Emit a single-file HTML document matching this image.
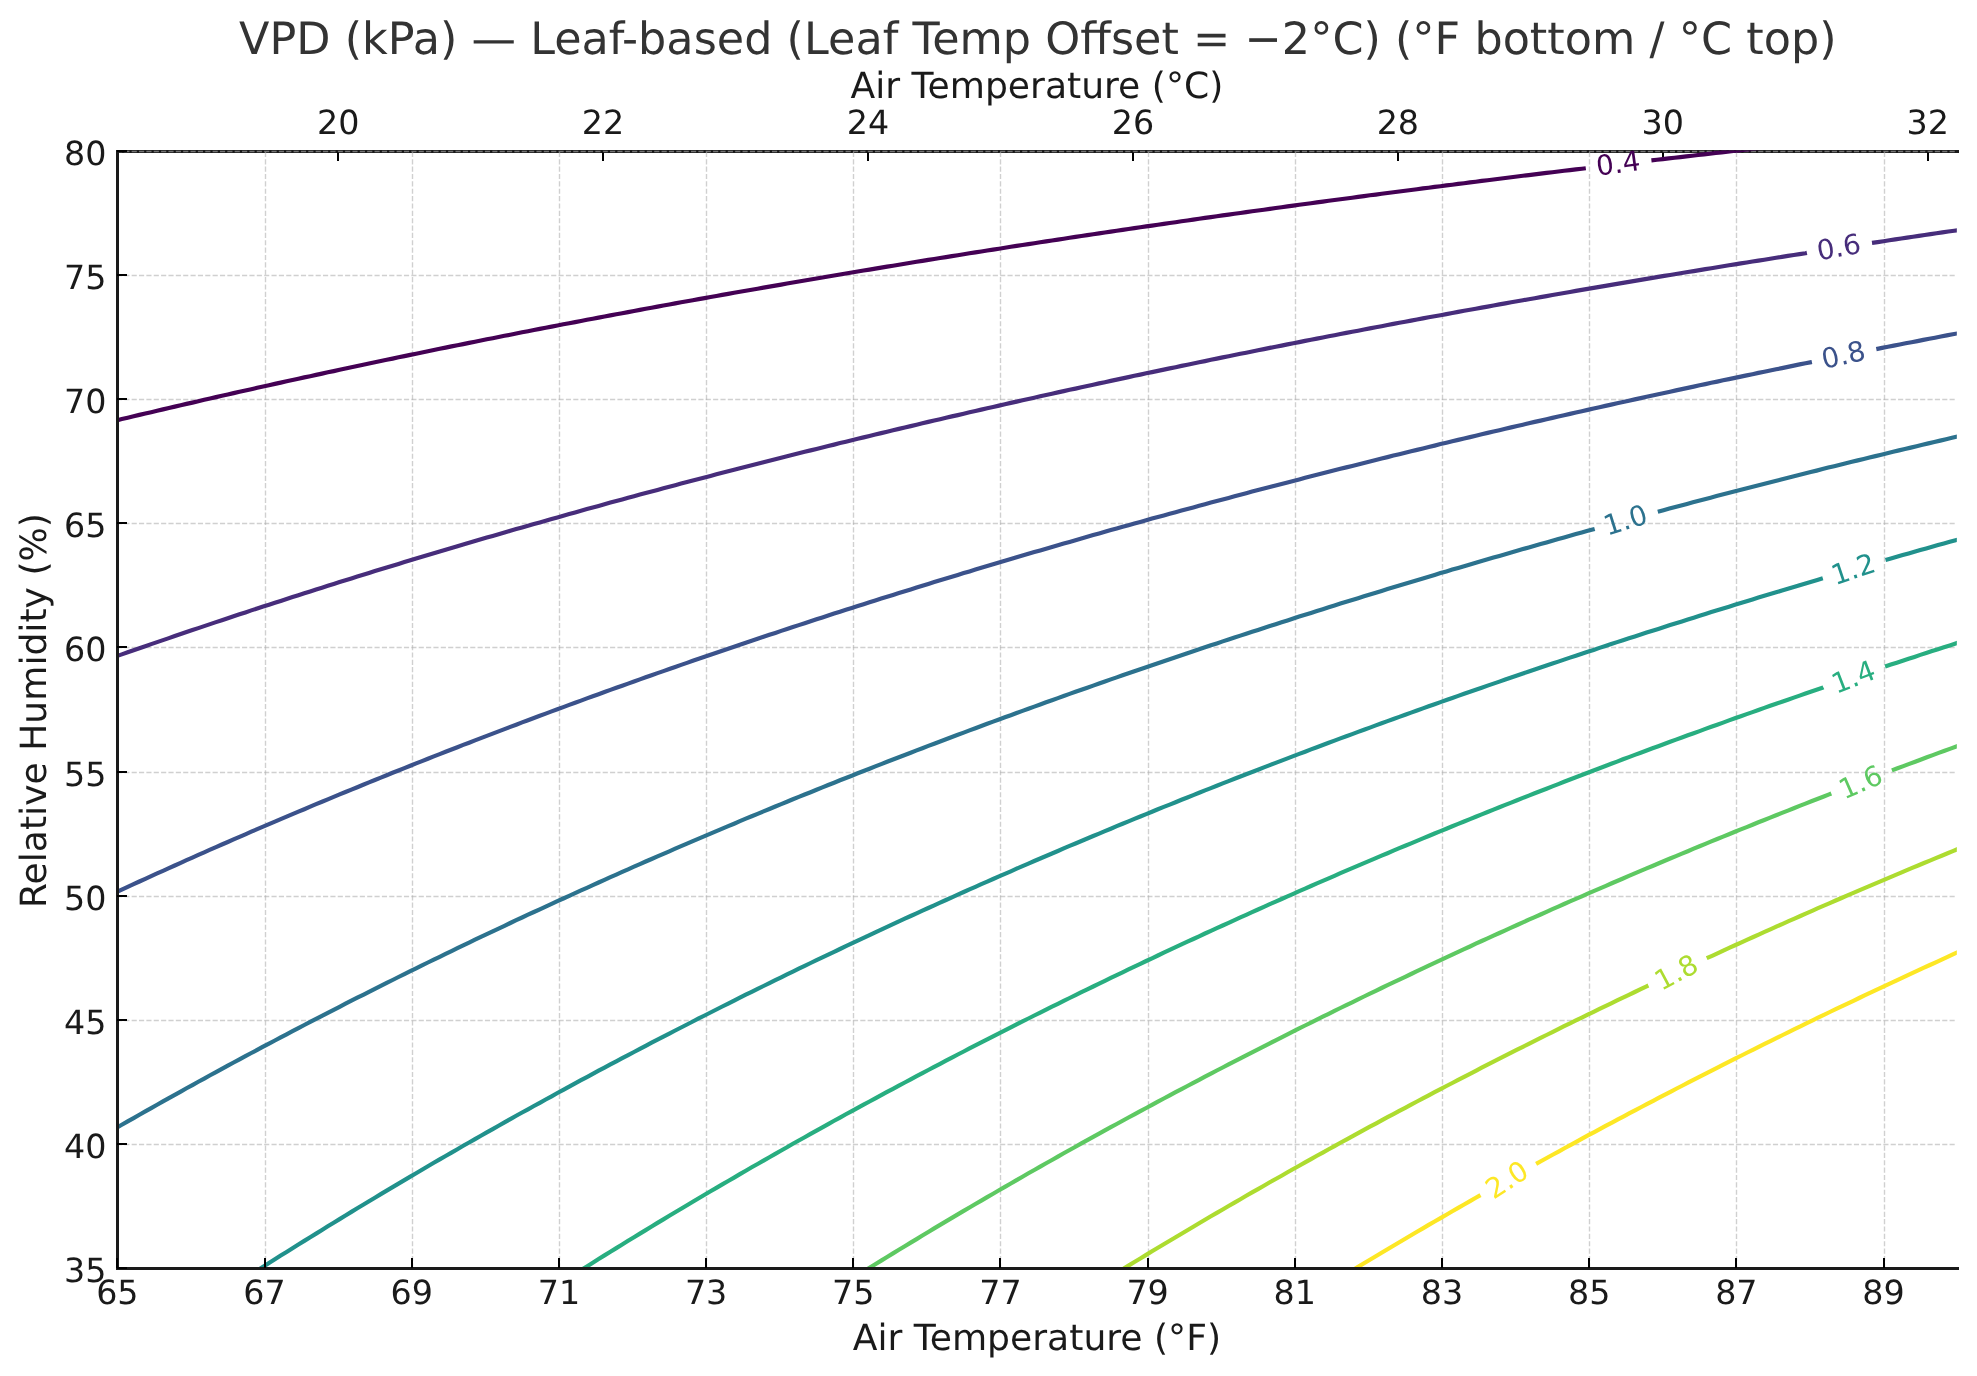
<!DOCTYPE html>
<html lang="en"><head><meta charset="utf-8"><title>VPD (kPa) — Leaf-based</title>
<style>html,body{margin:0;padding:0;background:#fff}svg{display:block;will-change:transform}</style></head>
<body>
<svg width="1977" height="1376" viewBox="0 0 1977 1376" font-family="'DejaVu Sans', 'Liberation Sans', sans-serif" text-rendering="geometricPrecision">
<rect width="1977" height="1376" fill="#fff"/>
<defs><clipPath id="ax"><rect x="116.93" y="150.6" width="1839.8999999999999" height="1117.8000000000002"/></clipPath></defs>
<rect x="116" y="150" width="1843" height="3" fill="#1a1a1a"/>
<rect x="337" y="151" width="2" height="10" fill="#000"/>
<rect x="602" y="151" width="2" height="10" fill="#000"/>
<rect x="867" y="151" width="2" height="10" fill="#000"/>
<rect x="1132" y="151" width="2" height="10" fill="#000"/>
<rect x="1397" y="151" width="2" height="10" fill="#000"/>
<rect x="1662" y="151" width="2" height="10" fill="#000"/>
<rect x="1927" y="151" width="2" height="10" fill="#000"/>
<g stroke="#b0b0b0" stroke-opacity="0.6" stroke-width="1.39" stroke-dasharray="5.14 2.22" fill="none">
<line x1="265.5" y1="1268.4" x2="265.5" y2="150.6"/>
<line x1="412.5" y1="1268.4" x2="412.5" y2="150.6"/>
<line x1="559.5" y1="1268.4" x2="559.5" y2="150.6"/>
<line x1="706.5" y1="1268.4" x2="706.5" y2="150.6"/>
<line x1="853.5" y1="1268.4" x2="853.5" y2="150.6"/>
<line x1="1000.5" y1="1268.4" x2="1000.5" y2="150.6"/>
<line x1="1148.5" y1="1268.4" x2="1148.5" y2="150.6"/>
<line x1="1295.5" y1="1268.4" x2="1295.5" y2="150.6"/>
<line x1="1442.5" y1="1268.4" x2="1442.5" y2="150.6"/>
<line x1="1589.5" y1="1268.4" x2="1589.5" y2="150.6"/>
<line x1="1736.5" y1="1268.4" x2="1736.5" y2="150.6"/>
<line x1="1884.5" y1="1268.4" x2="1884.5" y2="150.6"/>
<line x1="116.93" y1="1268.5" x2="1956.83" y2="1268.5"/>
<line x1="116.93" y1="1144.5" x2="1956.83" y2="1144.5"/>
<line x1="116.93" y1="1020.5" x2="1956.83" y2="1020.5"/>
<line x1="116.93" y1="896.5" x2="1956.83" y2="896.5"/>
<line x1="116.93" y1="772.5" x2="1956.83" y2="772.5"/>
<line x1="116.93" y1="647.5" x2="1956.83" y2="647.5"/>
<line x1="116.93" y1="523.5" x2="1956.83" y2="523.5"/>
<line x1="116.93" y1="399.5" x2="1956.83" y2="399.5"/>
<line x1="116.93" y1="275.5" x2="1956.83" y2="275.5"/>
<line x1="116.93" y1="151.5" x2="1956.83" y2="151.5"/>
</g>
<g clip-path="url(#ax)" fill="none" stroke-linecap="butt" stroke-linejoin="round">
<path d="M110.0 422.0 L115.9 420.6 L121.8 419.1 L127.7 417.7 L133.6 416.3 L139.4 414.9 L145.3 413.5 L151.2 412.2 L157.1 410.8 L163.0 409.4 L168.9 408.0 L174.8 406.6 L180.7 405.3 L186.5 403.9 L192.4 402.6 L198.3 401.2 L204.2 399.8 L210.1 398.5 L216.0 397.1 L221.9 395.8 L227.8 394.5 L233.6 393.1 L239.5 391.8 L245.4 390.5 L251.3 389.2 L257.2 387.8 L263.1 386.5 L269.0 385.2 L274.9 383.9 L280.7 382.6 L286.6 381.3 L292.5 380.0 L298.4 378.7 L304.3 377.4 L310.2 376.2 L316.1 374.9 L322.0 373.6 L327.8 372.3 L333.7 371.1 L339.6 369.8 L345.5 368.5 L351.4 367.3 L357.3 366.0 L363.2 364.8 L369.0 363.5 L374.9 362.3 L380.8 361.0 L386.7 359.8 L392.6 358.6 L398.5 357.3 L404.4 356.1 L410.3 354.9 L416.1 353.7 L422.0 352.5 L427.9 351.3 L433.8 350.0 L439.7 348.8 L445.6 347.6 L451.5 346.4 L457.4 345.3 L463.2 344.1 L469.1 342.9 L475.0 341.7 L480.9 340.5 L486.8 339.3 L492.7 338.2 L498.6 337.0 L504.5 335.8 L510.3 334.7 L516.2 333.5 L522.1 332.3 L528.0 331.2 L533.9 330.0 L539.8 328.9 L545.7 327.7 L551.6 326.6 L557.4 325.5 L563.3 324.3 L569.2 323.2 L575.1 322.1 L581.0 321.0 L586.9 319.8 L592.8 318.7 L598.6 317.6 L604.5 316.5 L610.4 315.4 L616.3 314.3 L622.2 313.2 L628.1 312.1 L634.0 311.0 L639.9 309.9 L645.7 308.8 L651.6 307.7 L657.5 306.6 L663.4 305.5 L669.3 304.5 L675.2 303.4 L681.1 302.3 L687.0 301.2 L692.8 300.2 L698.7 299.1 L704.6 298.1 L710.5 297.0 L716.4 296.0 L722.3 294.9 L728.2 293.9 L734.1 292.8 L739.9 291.8 L745.8 290.7 L751.7 289.7 L757.6 288.7 L763.5 287.6 L769.4 286.6 L775.3 285.6 L781.2 284.6 L787.0 283.5 L792.9 282.5 L798.8 281.5 L804.7 280.5 L810.6 279.5 L816.5 278.5 L822.4 277.5 L828.2 276.5 L834.1 275.5 L840.0 274.5 L845.9 273.5 L851.8 272.5 L857.7 271.5 L863.6 270.5 L869.5 269.6 L875.3 268.6 L881.2 267.6 L887.1 266.6 L893.0 265.7 L898.9 264.7 L904.8 263.7 L910.7 262.8 L916.6 261.8 L922.4 260.9 L928.3 259.9 L934.2 259.0 L940.1 258.0 L946.0 257.1 L951.9 256.1 L957.8 255.2 L963.7 254.3 L969.5 253.3 L975.4 252.4 L981.3 251.5 L987.2 250.5 L993.1 249.6 L999.0 248.7 L1004.9 247.8 L1010.8 246.8 L1016.6 245.9 L1022.5 245.0 L1028.4 244.1 L1034.3 243.2 L1040.2 242.3 L1046.1 241.4 L1052.0 240.5 L1057.9 239.6 L1063.7 238.7 L1069.6 237.8 L1075.5 236.9 L1081.4 236.0 L1087.3 235.1 L1093.2 234.3 L1099.1 233.4 L1104.9 232.5 L1110.8 231.6 L1116.7 230.8 L1122.6 229.9 L1128.5 229.0 L1134.4 228.1 L1140.3 227.3 L1146.2 226.4 L1152.0 225.6 L1157.9 224.7 L1163.8 223.9 L1169.7 223.0 L1175.6 222.2 L1181.5 221.3 L1187.4 220.5 L1193.3 219.6 L1199.1 218.8 L1205.0 217.9 L1210.9 217.1 L1216.8 216.3 L1222.7 215.4 L1228.6 214.6 L1234.5 213.8 L1240.4 213.0 L1246.2 212.1 L1252.1 211.3 L1258.0 210.5 L1263.9 209.7 L1269.8 208.9 L1275.7 208.0 L1281.6 207.2 L1287.5 206.4 L1293.3 205.6 L1299.2 204.8 L1305.1 204.0 L1311.0 203.2 L1316.9 202.4 L1322.8 201.6 L1328.7 200.8 L1334.5 200.0 L1340.4 199.3 L1346.3 198.5 L1352.2 197.7 L1358.1 196.9 L1364.0 196.1 L1369.9 195.3 L1375.8 194.6 L1381.6 193.8 L1387.5 193.0 L1393.4 192.3 L1399.3 191.5 L1405.2 190.7 L1411.1 190.0 L1417.0 189.2 L1422.9 188.4 L1428.7 187.7 L1434.6 186.9 L1440.5 186.2 L1446.4 185.4 L1452.3 184.7 L1458.2 183.9 L1464.1 183.2 L1470.0 182.4 L1475.8 181.7 L1481.7 180.9 L1487.6 180.2 L1493.5 179.5 L1499.4 178.7 L1505.3 178.0 L1511.2 177.3 L1517.1 176.5 L1522.9 175.8 L1528.8 175.1 L1534.7 174.4 L1540.6 173.6 L1546.5 172.9 L1552.4 172.2 L1558.3 171.5 L1564.1 170.8 L1570.0 170.1 L1575.9 169.4 L1581.8 168.7 L1585.8 168.2 M1651.4 160.4 L1656.9 159.8 L1662.8 159.1 L1668.6 158.4 L1674.5 157.7 L1680.4 157.1 L1686.3 156.4 L1692.2 155.7 L1698.1 155.0 L1704.0 154.4 L1709.9 153.7 L1715.7 153.0 L1721.6 152.4 L1727.5 151.7 L1733.4 151.0 L1739.3 150.4 L1745.2 149.7 L1751.1 149.1 L1757.0 148.4 L1762.8 147.8 L1768.7 147.1 L1774.6 146.4 L1780.5 145.8 L1786.4 145.2 L1792.3 144.5 L1798.2 143.9 L1804.1 143.2 L1809.9 142.6 L1815.8 141.9 L1821.7 141.3 L1827.6 140.7 L1833.5 140.0 L1839.4 139.4 L1845.3 138.8 L1851.2 138.1 L1857.0 137.5 L1862.9 136.9 L1868.8 136.3 L1874.7 135.6 L1880.6 135.0 L1886.5 134.4 L1892.4 133.8 L1898.2 133.2 L1904.1 132.5 L1910.0 131.9 L1915.9 131.3 L1921.8 130.7 L1927.7 130.1 L1933.6 129.5 L1939.5 128.9 L1945.3 128.3 L1951.2 127.7 L1957.1 127.1 L1963.0 126.5 L1964.5 126.3" stroke="#440154" stroke-width="4.17"/>
<path d="M110.0 658.5 L115.9 656.4 L121.8 654.4 L127.7 652.3 L133.6 650.3 L139.4 648.2 L145.3 646.2 L151.2 644.1 L157.1 642.1 L163.0 640.1 L168.9 638.1 L174.8 636.0 L180.7 634.0 L186.5 632.0 L192.4 630.1 L198.3 628.1 L204.2 626.1 L210.1 624.1 L216.0 622.1 L221.9 620.2 L227.8 618.2 L233.6 616.3 L239.5 614.3 L245.4 612.4 L251.3 610.4 L257.2 608.5 L263.1 606.6 L269.0 604.7 L274.9 602.8 L280.7 600.9 L286.6 599.0 L292.5 597.1 L298.4 595.2 L304.3 593.3 L310.2 591.4 L316.1 589.5 L322.0 587.7 L327.8 585.8 L333.7 584.0 L339.6 582.1 L345.5 580.3 L351.4 578.4 L357.3 576.6 L363.2 574.8 L369.0 572.9 L374.9 571.1 L380.8 569.3 L386.7 567.5 L392.6 565.7 L398.5 563.9 L404.4 562.1 L410.3 560.3 L416.1 558.6 L422.0 556.8 L427.9 555.0 L433.8 553.2 L439.7 551.5 L445.6 549.7 L451.5 548.0 L457.4 546.2 L463.2 544.5 L469.1 542.8 L475.0 541.0 L480.9 539.3 L486.8 537.6 L492.7 535.9 L498.6 534.2 L504.5 532.5 L510.3 530.8 L516.2 529.1 L522.1 527.4 L528.0 525.7 L533.9 524.0 L539.8 522.4 L545.7 520.7 L551.6 519.0 L557.4 517.4 L563.3 515.7 L569.2 514.1 L575.1 512.4 L581.0 510.8 L586.9 509.1 L592.8 507.5 L598.6 505.9 L604.5 504.3 L610.4 502.6 L616.3 501.0 L622.2 499.4 L628.1 497.8 L634.0 496.2 L639.9 494.6 L645.7 493.0 L651.6 491.5 L657.5 489.9 L663.4 488.3 L669.3 486.7 L675.2 485.2 L681.1 483.6 L687.0 482.1 L692.8 480.5 L698.7 479.0 L704.6 477.4 L710.5 475.9 L716.4 474.3 L722.3 472.8 L728.2 471.3 L734.1 469.8 L739.9 468.2 L745.8 466.7 L751.7 465.2 L757.6 463.7 L763.5 462.2 L769.4 460.7 L775.3 459.2 L781.2 457.7 L787.0 456.3 L792.9 454.8 L798.8 453.3 L804.7 451.8 L810.6 450.4 L816.5 448.9 L822.4 447.5 L828.2 446.0 L834.1 444.6 L840.0 443.1 L845.9 441.7 L851.8 440.2 L857.7 438.8 L863.6 437.4 L869.5 435.9 L875.3 434.5 L881.2 433.1 L887.1 431.7 L893.0 430.3 L898.9 428.9 L904.8 427.5 L910.7 426.1 L916.6 424.7 L922.4 423.3 L928.3 421.9 L934.2 420.5 L940.1 419.2 L946.0 417.8 L951.9 416.4 L957.8 415.1 L963.7 413.7 L969.5 412.3 L975.4 411.0 L981.3 409.6 L987.2 408.3 L993.1 407.0 L999.0 405.6 L1004.9 404.3 L1010.8 402.9 L1016.6 401.6 L1022.5 400.3 L1028.4 399.0 L1034.3 397.7 L1040.2 396.3 L1046.1 395.0 L1052.0 393.7 L1057.9 392.4 L1063.7 391.1 L1069.6 389.8 L1075.5 388.6 L1081.4 387.3 L1087.3 386.0 L1093.2 384.7 L1099.1 383.4 L1104.9 382.2 L1110.8 380.9 L1116.7 379.6 L1122.6 378.4 L1128.5 377.1 L1134.4 375.8 L1140.3 374.6 L1146.2 373.3 L1152.0 372.1 L1157.9 370.9 L1163.8 369.6 L1169.7 368.4 L1175.6 367.2 L1181.5 365.9 L1187.4 364.7 L1193.3 363.5 L1199.1 362.3 L1205.0 361.1 L1210.9 359.8 L1216.8 358.6 L1222.7 357.4 L1228.6 356.2 L1234.5 355.0 L1240.4 353.8 L1246.2 352.7 L1252.1 351.5 L1258.0 350.3 L1263.9 349.1 L1269.8 347.9 L1275.7 346.8 L1281.6 345.6 L1287.5 344.4 L1293.3 343.3 L1299.2 342.1 L1305.1 340.9 L1311.0 339.8 L1316.9 338.6 L1322.8 337.5 L1328.7 336.3 L1334.5 335.2 L1340.4 334.0 L1346.3 332.9 L1352.2 331.8 L1358.1 330.7 L1364.0 329.5 L1369.9 328.4 L1375.8 327.3 L1381.6 326.2 L1387.5 325.0 L1393.4 323.9 L1399.3 322.8 L1405.2 321.7 L1411.1 320.6 L1417.0 319.5 L1422.9 318.4 L1428.7 317.3 L1434.6 316.2 L1440.5 315.2 L1446.4 314.1 L1452.3 313.0 L1458.2 311.9 L1464.1 310.8 L1470.0 309.8 L1475.8 308.7 L1481.7 307.6 L1487.6 306.6 L1493.5 305.5 L1499.4 304.4 L1505.3 303.4 L1511.2 302.3 L1517.1 301.3 L1522.9 300.2 L1528.8 299.2 L1534.7 298.2 L1540.6 297.1 L1546.5 296.1 L1552.4 295.0 L1558.3 294.0 L1564.1 293.0 L1570.0 292.0 L1575.9 290.9 L1581.8 289.9 L1587.7 288.9 L1593.6 287.9 L1599.5 286.9 L1605.4 285.9 L1611.2 284.9 L1617.1 283.9 L1623.0 282.9 L1628.9 281.9 L1634.8 280.9 L1640.7 279.9 L1646.6 278.9 L1652.5 277.9 L1658.3 276.9 L1664.2 275.9 L1670.1 275.0 L1676.0 274.0 L1681.9 273.0 L1687.8 272.0 L1693.7 271.1 L1699.6 270.1 L1705.4 269.1 L1711.3 268.2 L1717.2 267.2 L1723.1 266.3 L1729.0 265.3 L1734.9 264.4 L1740.8 263.4 L1746.7 262.5 L1752.5 261.5 L1758.4 260.6 L1764.3 259.7 L1770.2 258.7 L1776.1 257.8 L1782.0 256.9 L1787.9 255.9 L1793.8 255.0 L1799.6 254.1 L1805.5 253.2 L1806.9 252.9 M1872.0 242.9 L1877.6 242.1 L1883.5 241.2 L1889.4 240.3 L1895.3 239.4 L1901.2 238.5 L1907.1 237.6 L1913.0 236.8 L1918.9 235.9 L1924.7 235.0 L1930.6 234.1 L1936.5 233.3 L1942.4 232.4 L1948.3 231.5 L1954.2 230.7 L1960.1 229.8 L1964.5 229.2" stroke="#472d7b" stroke-width="4.17"/>
<path d="M110.0 895.0 L115.9 892.3 L121.8 889.6 L127.7 886.9 L133.6 884.2 L139.4 881.5 L145.3 878.8 L151.2 876.1 L157.1 873.4 L163.0 870.8 L168.9 868.1 L174.8 865.5 L180.7 862.8 L186.5 860.2 L192.4 857.6 L198.3 854.9 L204.2 852.3 L210.1 849.7 L216.0 847.1 L221.9 844.5 L227.8 842.0 L233.6 839.4 L239.5 836.8 L245.4 834.3 L251.3 831.7 L257.2 829.2 L263.1 826.7 L269.0 824.1 L274.9 821.6 L280.7 819.1 L286.6 816.6 L292.5 814.1 L298.4 811.6 L304.3 809.2 L310.2 806.7 L316.1 804.2 L322.0 801.8 L327.8 799.3 L333.7 796.9 L339.6 794.4 L345.5 792.0 L351.4 789.6 L357.3 787.2 L363.2 784.8 L369.0 782.4 L374.9 780.0 L380.8 777.6 L386.7 775.2 L392.6 772.8 L398.5 770.5 L404.4 768.1 L410.3 765.8 L416.1 763.4 L422.0 761.1 L427.9 758.8 L433.8 756.4 L439.7 754.1 L445.6 751.8 L451.5 749.5 L457.4 747.2 L463.2 744.9 L469.1 742.7 L475.0 740.4 L480.9 738.1 L486.8 735.9 L492.7 733.6 L498.6 731.4 L504.5 729.1 L510.3 726.9 L516.2 724.7 L522.1 722.4 L528.0 720.2 L533.9 718.0 L539.8 715.8 L545.7 713.6 L551.6 711.4 L557.4 709.3 L563.3 707.1 L569.2 704.9 L575.1 702.8 L581.0 700.6 L586.9 698.4 L592.8 696.3 L598.6 694.2 L604.5 692.0 L610.4 689.9 L616.3 687.8 L622.2 685.7 L628.1 683.6 L634.0 681.5 L639.9 679.4 L645.7 677.3 L651.6 675.2 L657.5 673.1 L663.4 671.1 L669.3 669.0 L675.2 667.0 L681.1 664.9 L687.0 662.9 L692.8 660.8 L698.7 658.8 L704.6 656.8 L710.5 654.7 L716.4 652.7 L722.3 650.7 L728.2 648.7 L734.1 646.7 L739.9 644.7 L745.8 642.7 L751.7 640.8 L757.6 638.8 L763.5 636.8 L769.4 634.8 L775.3 632.9 L781.2 630.9 L787.0 629.0 L792.9 627.1 L798.8 625.1 L804.7 623.2 L810.6 621.3 L816.5 619.3 L822.4 617.4 L828.2 615.5 L834.1 613.6 L840.0 611.7 L845.9 609.8 L851.8 608.0 L857.7 606.1 L863.6 604.2 L869.5 602.3 L875.3 600.5 L881.2 598.6 L887.1 596.8 L893.0 594.9 L898.9 593.1 L904.8 591.2 L910.7 589.4 L916.6 587.6 L922.4 585.7 L928.3 583.9 L934.2 582.1 L940.1 580.3 L946.0 578.5 L951.9 576.7 L957.8 574.9 L963.7 573.1 L969.5 571.4 L975.4 569.6 L981.3 567.8 L987.2 566.1 L993.1 564.3 L999.0 562.5 L1004.9 560.8 L1010.8 559.1 L1016.6 557.3 L1022.5 555.6 L1028.4 553.8 L1034.3 552.1 L1040.2 550.4 L1046.1 548.7 L1052.0 547.0 L1057.9 545.3 L1063.7 543.6 L1069.6 541.9 L1075.5 540.2 L1081.4 538.5 L1087.3 536.8 L1093.2 535.1 L1099.1 533.5 L1104.9 531.8 L1110.8 530.1 L1116.7 528.5 L1122.6 526.8 L1128.5 525.2 L1134.4 523.5 L1140.3 521.9 L1146.2 520.3 L1152.0 518.6 L1157.9 517.0 L1163.8 515.4 L1169.7 513.8 L1175.6 512.2 L1181.5 510.6 L1187.4 509.0 L1193.3 507.4 L1199.1 505.8 L1205.0 504.2 L1210.9 502.6 L1216.8 501.0 L1222.7 499.4 L1228.6 497.9 L1234.5 496.3 L1240.4 494.7 L1246.2 493.2 L1252.1 491.6 L1258.0 490.1 L1263.9 488.5 L1269.8 487.0 L1275.7 485.5 L1281.6 483.9 L1287.5 482.4 L1293.3 480.9 L1299.2 479.4 L1305.1 477.8 L1311.0 476.3 L1316.9 474.8 L1322.8 473.3 L1328.7 471.8 L1334.5 470.3 L1340.4 468.8 L1346.3 467.4 L1352.2 465.9 L1358.1 464.4 L1364.0 462.9 L1369.9 461.5 L1375.8 460.0 L1381.6 458.5 L1387.5 457.1 L1393.4 455.6 L1399.3 454.2 L1405.2 452.7 L1411.1 451.3 L1417.0 449.9 L1422.9 448.4 L1428.7 447.0 L1434.6 445.6 L1440.5 444.1 L1446.4 442.7 L1452.3 441.3 L1458.2 439.9 L1464.1 438.5 L1470.0 437.1 L1475.8 435.7 L1481.7 434.3 L1487.6 432.9 L1493.5 431.5 L1499.4 430.2 L1505.3 428.8 L1511.2 427.4 L1517.1 426.0 L1522.9 424.7 L1528.8 423.3 L1534.7 421.9 L1540.6 420.6 L1546.5 419.2 L1552.4 417.9 L1558.3 416.5 L1564.1 415.2 L1570.0 413.9 L1575.9 412.5 L1581.8 411.2 L1587.7 409.9 L1593.6 408.5 L1599.5 407.2 L1605.4 405.9 L1611.2 404.6 L1617.1 403.3 L1623.0 402.0 L1628.9 400.7 L1634.8 399.4 L1640.7 398.1 L1646.6 396.8 L1652.5 395.5 L1658.3 394.2 L1664.2 393.0 L1670.1 391.7 L1676.0 390.4 L1681.9 389.1 L1687.8 387.9 L1693.7 386.6 L1699.6 385.3 L1705.4 384.1 L1711.3 382.8 L1717.2 381.6 L1723.1 380.3 L1729.0 379.1 L1734.9 377.9 L1740.8 376.6 L1746.7 375.4 L1752.5 374.2 L1758.4 372.9 L1764.3 371.7 L1770.2 370.5 L1776.1 369.3 L1782.0 368.1 L1787.9 366.9 L1793.8 365.6 L1799.6 364.4 L1805.5 363.2 L1811.4 362.1 L1811.9 362.0 M1876.3 349.1 L1882.1 347.9 L1887.9 346.8 L1893.8 345.6 L1899.7 344.5 L1905.6 343.3 L1911.5 342.2 L1917.4 341.1 L1923.3 339.9 L1929.2 338.8 L1935.0 337.7 L1940.9 336.5 L1946.8 335.4 L1952.7 334.3 L1958.6 333.2 L1964.5 332.0" stroke="#3b528b" stroke-width="4.17"/>
<path d="M110.0 1131.6 L115.9 1128.2 L121.8 1124.8 L127.7 1121.4 L133.6 1118.1 L139.4 1114.7 L145.3 1111.4 L151.2 1108.1 L157.1 1104.7 L163.0 1101.4 L168.9 1098.1 L174.8 1094.9 L180.7 1091.6 L186.5 1088.3 L192.4 1085.1 L198.3 1081.8 L204.2 1078.6 L210.1 1075.3 L216.0 1072.1 L221.9 1068.9 L227.8 1065.7 L233.6 1062.5 L239.5 1059.3 L245.4 1056.2 L251.3 1053.0 L257.2 1049.9 L263.1 1046.7 L269.0 1043.6 L274.9 1040.5 L280.7 1037.4 L286.6 1034.3 L292.5 1031.2 L298.4 1028.1 L304.3 1025.0 L310.2 1021.9 L316.1 1018.9 L322.0 1015.8 L327.8 1012.8 L333.7 1009.8 L339.6 1006.8 L345.5 1003.7 L351.4 1000.7 L357.3 997.7 L363.2 994.8 L369.0 991.8 L374.9 988.8 L380.8 985.9 L386.7 982.9 L392.6 980.0 L398.5 977.0 L404.4 974.1 L410.3 971.2 L416.1 968.3 L422.0 965.4 L427.9 962.5 L433.8 959.6 L439.7 956.8 L445.6 953.9 L451.5 951.1 L457.4 948.2 L463.2 945.4 L469.1 942.6 L475.0 939.7 L480.9 936.9 L486.8 934.1 L492.7 931.3 L498.6 928.6 L504.5 925.8 L510.3 923.0 L516.2 920.2 L522.1 917.5 L528.0 914.7 L533.9 912.0 L539.8 909.3 L545.7 906.6 L551.6 903.9 L557.4 901.2 L563.3 898.5 L569.2 895.8 L575.1 893.1 L581.0 890.4 L586.9 887.8 L592.8 885.1 L598.6 882.5 L604.5 879.8 L610.4 877.2 L616.3 874.6 L622.2 871.9 L628.1 869.3 L634.0 866.7 L639.9 864.1 L645.7 861.5 L651.6 859.0 L657.5 856.4 L663.4 853.8 L669.3 851.3 L675.2 848.7 L681.1 846.2 L687.0 843.7 L692.8 841.1 L698.7 838.6 L704.6 836.1 L710.5 833.6 L716.4 831.1 L722.3 828.6 L728.2 826.1 L734.1 823.7 L739.9 821.2 L745.8 818.7 L751.7 816.3 L757.6 813.8 L763.5 811.4 L769.4 809.0 L775.3 806.5 L781.2 804.1 L787.0 801.7 L792.9 799.3 L798.8 796.9 L804.7 794.5 L810.6 792.2 L816.5 789.8 L822.4 787.4 L828.2 785.0 L834.1 782.7 L840.0 780.3 L845.9 778.0 L851.8 775.7 L857.7 773.3 L863.6 771.0 L869.5 768.7 L875.3 766.4 L881.2 764.1 L887.1 761.8 L893.0 759.5 L898.9 757.2 L904.8 755.0 L910.7 752.7 L916.6 750.4 L922.4 748.2 L928.3 745.9 L934.2 743.7 L940.1 741.5 L946.0 739.2 L951.9 737.0 L957.8 734.8 L963.7 732.6 L969.5 730.4 L975.4 728.2 L981.3 726.0 L987.2 723.8 L993.1 721.6 L999.0 719.5 L1004.9 717.3 L1010.8 715.2 L1016.6 713.0 L1022.5 710.9 L1028.4 708.7 L1034.3 706.6 L1040.2 704.5 L1046.1 702.3 L1052.0 700.2 L1057.9 698.1 L1063.7 696.0 L1069.6 693.9 L1075.5 691.8 L1081.4 689.7 L1087.3 687.7 L1093.2 685.6 L1099.1 683.5 L1104.9 681.5 L1110.8 679.4 L1116.7 677.4 L1122.6 675.3 L1128.5 673.3 L1134.4 671.2 L1140.3 669.2 L1146.2 667.2 L1152.0 665.2 L1157.9 663.2 L1163.8 661.2 L1169.7 659.2 L1175.6 657.2 L1181.5 655.2 L1187.4 653.2 L1193.3 651.2 L1199.1 649.3 L1205.0 647.3 L1210.9 645.3 L1216.8 643.4 L1222.7 641.4 L1228.6 639.5 L1234.5 637.6 L1240.4 635.6 L1246.2 633.7 L1252.1 631.8 L1258.0 629.9 L1263.9 628.0 L1269.8 626.1 L1275.7 624.2 L1281.6 622.3 L1287.5 620.4 L1293.3 618.5 L1299.2 616.6 L1305.1 614.8 L1311.0 612.9 L1316.9 611.0 L1322.8 609.2 L1328.7 607.3 L1334.5 605.5 L1340.4 603.6 L1346.3 601.8 L1352.2 600.0 L1358.1 598.2 L1364.0 596.3 L1369.9 594.5 L1375.8 592.7 L1381.6 590.9 L1387.5 589.1 L1393.4 587.3 L1399.3 585.5 L1405.2 583.7 L1411.1 582.0 L1417.0 580.2 L1422.9 578.4 L1428.7 576.7 L1434.6 574.9 L1440.5 573.1 L1446.4 571.4 L1452.3 569.6 L1458.2 567.9 L1464.1 566.2 L1470.0 564.4 L1475.8 562.7 L1481.7 561.0 L1487.6 559.3 L1493.5 557.6 L1499.4 555.9 L1505.3 554.2 L1511.2 552.5 L1517.1 550.8 L1522.9 549.1 L1528.8 547.4 L1534.7 545.7 L1540.6 544.1 L1546.5 542.4 L1552.4 540.7 L1558.3 539.1 L1564.1 537.4 L1570.0 535.8 L1575.9 534.1 L1581.8 532.5 L1587.7 530.8 L1593.6 529.2 L1594.7 528.9 M1657.8 511.7 L1663.5 510.2 L1669.4 508.6 L1675.3 507.0 L1681.2 505.4 L1687.0 503.9 L1692.9 502.3 L1698.8 500.8 L1704.7 499.2 L1710.6 497.7 L1716.5 496.1 L1722.4 494.6 L1728.3 493.1 L1734.1 491.5 L1740.0 490.0 L1745.9 488.5 L1751.8 487.0 L1757.7 485.5 L1763.6 484.0 L1769.5 482.5 L1775.4 481.0 L1781.2 479.5 L1787.1 478.0 L1793.0 476.5 L1798.9 475.0 L1804.8 473.5 L1810.7 472.0 L1816.6 470.6 L1822.5 469.1 L1828.3 467.6 L1834.2 466.2 L1840.1 464.7 L1846.0 463.3 L1851.9 461.8 L1857.8 460.4 L1863.7 459.0 L1869.5 457.5 L1875.4 456.1 L1881.3 454.7 L1887.2 453.2 L1893.1 451.8 L1899.0 450.4 L1904.9 449.0 L1910.8 447.6 L1916.6 446.2 L1922.5 444.8 L1928.4 443.4 L1934.3 442.0 L1940.2 440.6 L1946.1 439.2 L1952.0 437.8 L1957.9 436.4 L1963.7 435.1 L1964.5 434.9" stroke="#2c728e" stroke-width="4.17"/>
<path d="M110.0 1368.1 L115.9 1364.1 L121.8 1360.0 L127.7 1356.0 L133.6 1352.0 L139.4 1348.0 L145.3 1344.0 L151.2 1340.0 L157.1 1336.1 L163.0 1332.1 L168.9 1328.2 L174.8 1324.3 L180.7 1320.3 L186.5 1316.4 L192.4 1312.6 L198.3 1308.7 L204.2 1304.8 L210.1 1301.0 L216.0 1297.1 L221.9 1293.3 L227.8 1289.5 L233.6 1285.7 L239.5 1281.9 L245.4 1278.1 L251.3 1274.3 L257.2 1270.5 L263.1 1266.8 L269.0 1263.1 L274.9 1259.3 L280.7 1255.6 L286.6 1251.9 L292.5 1248.2 L298.4 1244.5 L304.3 1240.9 L310.2 1237.2 L316.1 1233.6 L322.0 1229.9 L327.8 1226.3 L333.7 1222.7 L339.6 1219.1 L345.5 1215.5 L351.4 1211.9 L357.3 1208.3 L363.2 1204.8 L369.0 1201.2 L374.9 1197.7 L380.8 1194.1 L386.7 1190.6 L392.6 1187.1 L398.5 1183.6 L404.4 1180.1 L410.3 1176.6 L416.1 1173.2 L422.0 1169.7 L427.9 1166.3 L433.8 1162.8 L439.7 1159.4 L445.6 1156.0 L451.5 1152.6 L457.4 1149.2 L463.2 1145.8 L469.1 1142.5 L475.0 1139.1 L480.9 1135.7 L486.8 1132.4 L492.7 1129.1 L498.6 1125.7 L504.5 1122.4 L510.3 1119.1 L516.2 1115.8 L522.1 1112.5 L528.0 1109.3 L533.9 1106.0 L539.8 1102.8 L545.7 1099.5 L551.6 1096.3 L557.4 1093.0 L563.3 1089.8 L569.2 1086.6 L575.1 1083.4 L581.0 1080.2 L586.9 1077.1 L592.8 1073.9 L598.6 1070.7 L604.5 1067.6 L610.4 1064.4 L616.3 1061.3 L622.2 1058.2 L628.1 1055.1 L634.0 1052.0 L639.9 1048.9 L645.7 1045.8 L651.6 1042.7 L657.5 1039.7 L663.4 1036.6 L669.3 1033.6 L675.2 1030.5 L681.1 1027.5 L687.0 1024.5 L692.8 1021.5 L698.7 1018.4 L704.6 1015.5 L710.5 1012.5 L716.4 1009.5 L722.3 1006.5 L728.2 1003.6 L734.1 1000.6 L739.9 997.7 L745.8 994.7 L751.7 991.8 L757.6 988.9 L763.5 986.0 L769.4 983.1 L775.3 980.2 L781.2 977.3 L787.0 974.4 L792.9 971.6 L798.8 968.7 L804.7 965.9 L810.6 963.0 L816.5 960.2 L822.4 957.4 L828.2 954.6 L834.1 951.8 L840.0 949.0 L845.9 946.2 L851.8 943.4 L857.7 940.6 L863.6 937.9 L869.5 935.1 L875.3 932.3 L881.2 929.6 L887.1 926.9 L893.0 924.1 L898.9 921.4 L904.8 918.7 L910.7 916.0 L916.6 913.3 L922.4 910.6 L928.3 908.0 L934.2 905.3 L940.1 902.6 L946.0 900.0 L951.9 897.3 L957.8 894.7 L963.7 892.0 L969.5 889.4 L975.4 886.8 L981.3 884.2 L987.2 881.6 L993.1 879.0 L999.0 876.4 L1004.9 873.8 L1010.8 871.3 L1016.6 868.7 L1022.5 866.1 L1028.4 863.6 L1034.3 861.0 L1040.2 858.5 L1046.1 856.0 L1052.0 853.5 L1057.9 851.0 L1063.7 848.4 L1069.6 845.9 L1075.5 843.5 L1081.4 841.0 L1087.3 838.5 L1093.2 836.0 L1099.1 833.6 L1104.9 831.1 L1110.8 828.7 L1116.7 826.2 L1122.6 823.8 L1128.5 821.4 L1134.4 818.9 L1140.3 816.5 L1146.2 814.1 L1152.0 811.7 L1157.9 809.3 L1163.8 806.9 L1169.7 804.6 L1175.6 802.2 L1181.5 799.8 L1187.4 797.5 L1193.3 795.1 L1199.1 792.8 L1205.0 790.4 L1210.9 788.1 L1216.8 785.8 L1222.7 783.4 L1228.6 781.1 L1234.5 778.8 L1240.4 776.5 L1246.2 774.2 L1252.1 772.0 L1258.0 769.7 L1263.9 767.4 L1269.8 765.1 L1275.7 762.9 L1281.6 760.6 L1287.5 758.4 L1293.3 756.1 L1299.2 753.9 L1305.1 751.7 L1311.0 749.4 L1316.9 747.2 L1322.8 745.0 L1328.7 742.8 L1334.5 740.6 L1340.4 738.4 L1346.3 736.3 L1352.2 734.1 L1358.1 731.9 L1364.0 729.7 L1369.9 727.6 L1375.8 725.4 L1381.6 723.3 L1387.5 721.1 L1393.4 719.0 L1399.3 716.9 L1405.2 714.7 L1411.1 712.6 L1417.0 710.5 L1422.9 708.4 L1428.7 706.3 L1434.6 704.2 L1440.5 702.1 L1446.4 700.0 L1452.3 698.0 L1458.2 695.9 L1464.1 693.8 L1470.0 691.8 L1475.8 689.7 L1481.7 687.7 L1487.6 685.6 L1493.5 683.6 L1499.4 681.6 L1505.3 679.5 L1511.2 677.5 L1517.1 675.5 L1522.9 673.5 L1528.8 671.5 L1534.7 669.5 L1540.6 667.5 L1546.5 665.5 L1552.4 663.6 L1558.3 661.6 L1564.1 659.6 L1570.0 657.6 L1575.9 655.7 L1581.8 653.7 L1587.7 651.8 L1593.6 649.9 L1599.5 647.9 L1605.4 646.0 L1611.2 644.1 L1617.1 642.1 L1623.0 640.2 L1628.9 638.3 L1634.8 636.4 L1640.7 634.5 L1646.6 632.6 L1652.5 630.7 L1658.3 628.9 L1664.2 627.0 L1670.1 625.1 L1676.0 623.2 L1681.9 621.4 L1687.8 619.5 L1693.7 617.7 L1699.6 615.8 L1705.4 614.0 L1711.3 612.1 L1717.2 610.3 L1723.1 608.5 L1729.0 606.7 L1734.9 604.8 L1740.8 603.0 L1746.7 601.2 L1752.5 599.4 L1758.4 597.6 L1764.3 595.8 L1770.2 594.1 L1776.1 592.3 L1782.0 590.5 L1787.9 588.7 L1793.8 587.0 L1799.6 585.2 L1805.5 583.4 L1811.4 581.7 L1817.3 579.9 L1822.8 578.3 M1885.5 560.0 L1890.9 558.5 L1896.8 556.8 L1902.7 555.1 L1908.6 553.4 L1914.4 551.8 L1920.3 550.1 L1926.2 548.5 L1932.1 546.8 L1938.0 545.1 L1943.9 543.5 L1949.8 541.8 L1955.6 540.2 L1961.5 538.6 L1964.5 537.8" stroke="#21918c" stroke-width="4.17"/>
<path d="M110.0 1604.6 L115.9 1599.9 L121.8 1595.3 L127.7 1590.6 L133.6 1585.9 L139.4 1581.3 L145.3 1576.6 L151.2 1572.0 L157.1 1567.4 L163.0 1562.8 L168.9 1558.2 L174.8 1553.7 L180.7 1549.1 L186.5 1544.6 L192.4 1540.1 L198.3 1535.6 L204.2 1531.1 L210.1 1526.6 L216.0 1522.1 L221.9 1517.7 L227.8 1513.2 L233.6 1508.8 L239.5 1504.4 L245.4 1500.0 L251.3 1495.6 L257.2 1491.2 L263.1 1486.9 L269.0 1482.5 L274.9 1478.2 L280.7 1473.9 L286.6 1469.6 L292.5 1465.3 L298.4 1461.0 L304.3 1456.7 L310.2 1452.5 L316.1 1448.2 L322.0 1444.0 L327.8 1439.8 L333.7 1435.6 L339.6 1431.4 L345.5 1427.2 L351.4 1423.0 L357.3 1418.9 L363.2 1414.8 L369.0 1410.6 L374.9 1406.5 L380.8 1402.4 L386.7 1398.3 L392.6 1394.2 L398.5 1390.2 L404.4 1386.1 L410.3 1382.1 L416.1 1378.1 L422.0 1374.0 L427.9 1370.0 L433.8 1366.0 L439.7 1362.1 L445.6 1358.1 L451.5 1354.1 L457.4 1350.2 L463.2 1346.3 L469.1 1342.3 L475.0 1338.4 L480.9 1334.5 L486.8 1330.7 L492.7 1326.8 L498.6 1322.9 L504.5 1319.1 L510.3 1315.2 L516.2 1311.4 L522.1 1307.6 L528.0 1303.8 L533.9 1300.0 L539.8 1296.2 L545.7 1292.4 L551.6 1288.7 L557.4 1284.9 L563.3 1281.2 L569.2 1277.5 L575.1 1273.8 L581.0 1270.1 L586.9 1266.4 L592.8 1262.7 L598.6 1259.0 L604.5 1255.4 L610.4 1251.7 L616.3 1248.1 L622.2 1244.5 L628.1 1240.8 L634.0 1237.2 L639.9 1233.6 L645.7 1230.1 L651.6 1226.5 L657.5 1222.9 L663.4 1219.4 L669.3 1215.8 L675.2 1212.3 L681.1 1208.8 L687.0 1205.3 L692.8 1201.8 L698.7 1198.3 L704.6 1194.8 L710.5 1191.3 L716.4 1187.9 L722.3 1184.4 L728.2 1181.0 L734.1 1177.6 L739.9 1174.1 L745.8 1170.7 L751.7 1167.3 L757.6 1164.0 L763.5 1160.6 L769.4 1157.2 L775.3 1153.9 L781.2 1150.5 L787.0 1147.2 L792.9 1143.8 L798.8 1140.5 L804.7 1137.2 L810.6 1133.9 L816.5 1130.6 L822.4 1127.4 L828.2 1124.1 L834.1 1120.8 L840.0 1117.6 L845.9 1114.3 L851.8 1111.1 L857.7 1107.9 L863.6 1104.7 L869.5 1101.5 L875.3 1098.3 L881.2 1095.1 L887.1 1091.9 L893.0 1088.8 L898.9 1085.6 L904.8 1082.5 L910.7 1079.3 L916.6 1076.2 L922.4 1073.1 L928.3 1070.0 L934.2 1066.9 L940.1 1063.8 L946.0 1060.7 L951.9 1057.6 L957.8 1054.5 L963.7 1051.5 L969.5 1048.4 L975.4 1045.4 L981.3 1042.4 L987.2 1039.4 L993.1 1036.3 L999.0 1033.3 L1004.9 1030.4 L1010.8 1027.4 L1016.6 1024.4 L1022.5 1021.4 L1028.4 1018.5 L1034.3 1015.5 L1040.2 1012.6 L1046.1 1009.6 L1052.0 1006.7 L1057.9 1003.8 L1063.7 1000.9 L1069.6 998.0 L1075.5 995.1 L1081.4 992.2 L1087.3 989.3 L1093.2 986.5 L1099.1 983.6 L1104.9 980.8 L1110.8 977.9 L1116.7 975.1 L1122.6 972.3 L1128.5 969.4 L1134.4 966.6 L1140.3 963.8 L1146.2 961.0 L1152.0 958.3 L1157.9 955.5 L1163.8 952.7 L1169.7 949.9 L1175.6 947.2 L1181.5 944.4 L1187.4 941.7 L1193.3 939.0 L1199.1 936.3 L1205.0 933.5 L1210.9 930.8 L1216.8 928.1 L1222.7 925.5 L1228.6 922.8 L1234.5 920.1 L1240.4 917.4 L1246.2 914.8 L1252.1 912.1 L1258.0 909.5 L1263.9 906.8 L1269.8 904.2 L1275.7 901.6 L1281.6 899.0 L1287.5 896.4 L1293.3 893.8 L1299.2 891.2 L1305.1 888.6 L1311.0 886.0 L1316.9 883.4 L1322.8 880.9 L1328.7 878.3 L1334.5 875.8 L1340.4 873.2 L1346.3 870.7 L1352.2 868.2 L1358.1 865.6 L1364.0 863.1 L1369.9 860.6 L1375.8 858.1 L1381.6 855.6 L1387.5 853.2 L1393.4 850.7 L1399.3 848.2 L1405.2 845.8 L1411.1 843.3 L1417.0 840.8 L1422.9 838.4 L1428.7 836.0 L1434.6 833.5 L1440.5 831.1 L1446.4 828.7 L1452.3 826.3 L1458.2 823.9 L1464.1 821.5 L1470.0 819.1 L1475.8 816.7 L1481.7 814.4 L1487.6 812.0 L1493.5 809.6 L1499.4 807.3 L1505.3 804.9 L1511.2 802.6 L1517.1 800.3 L1522.9 797.9 L1528.8 795.6 L1534.7 793.3 L1540.6 791.0 L1546.5 788.7 L1552.4 786.4 L1558.3 784.1 L1564.1 781.8 L1570.0 779.5 L1575.9 777.3 L1581.8 775.0 L1587.7 772.8 L1593.6 770.5 L1599.5 768.3 L1605.4 766.0 L1611.2 763.8 L1617.1 761.6 L1623.0 759.3 L1628.9 757.1 L1634.8 754.9 L1640.7 752.7 L1646.6 750.5 L1652.5 748.3 L1658.3 746.2 L1664.2 744.0 L1670.1 741.8 L1676.0 739.6 L1681.9 737.5 L1687.8 735.3 L1693.7 733.2 L1699.6 731.1 L1705.4 728.9 L1711.3 726.8 L1717.2 724.7 L1723.1 722.6 L1729.0 720.4 L1734.9 718.3 L1740.8 716.2 L1746.7 714.1 L1752.5 712.1 L1758.4 710.0 L1764.3 707.9 L1770.2 705.8 L1776.1 703.8 L1782.0 701.7 L1787.9 699.7 L1793.8 697.6 L1799.6 695.6 L1805.5 693.5 L1811.4 691.5 L1817.3 689.5 L1823.2 687.5 L1823.4 687.4 M1885.1 666.5 L1890.9 664.6 L1896.8 662.7 L1902.7 660.7 L1908.6 658.8 L1914.4 656.9 L1920.3 654.9 L1926.2 653.0 L1932.1 651.1 L1938.0 649.2 L1943.9 647.3 L1949.8 645.4 L1955.6 643.5 L1961.5 641.6 L1964.5 640.6" stroke="#28ae80" stroke-width="4.17"/>
<path d="M110.0 1841.2 L115.9 1835.8 L121.8 1830.5 L127.7 1825.1 L133.6 1819.8 L139.4 1814.5 L145.3 1809.2 L151.2 1804.0 L157.1 1798.7 L163.0 1793.5 L168.9 1788.3 L174.8 1783.1 L180.7 1777.9 L186.5 1772.7 L192.4 1767.6 L198.3 1762.4 L204.2 1757.3 L210.1 1752.2 L216.0 1747.1 L221.9 1742.0 L227.8 1737.0 L233.6 1731.9 L239.5 1726.9 L245.4 1721.9 L251.3 1716.9 L257.2 1711.9 L263.1 1706.9 L269.0 1702.0 L274.9 1697.0 L280.7 1692.1 L286.6 1687.2 L292.5 1682.3 L298.4 1677.4 L304.3 1672.6 L310.2 1667.7 L316.1 1662.9 L322.0 1658.1 L327.8 1653.3 L333.7 1648.5 L339.6 1643.7 L345.5 1638.9 L351.4 1634.2 L357.3 1629.5 L363.2 1624.7 L369.0 1620.0 L374.9 1615.4 L380.8 1610.7 L386.7 1606.0 L392.6 1601.4 L398.5 1596.7 L404.4 1592.1 L410.3 1587.5 L416.1 1582.9 L422.0 1578.4 L427.9 1573.8 L433.8 1569.2 L439.7 1564.7 L445.6 1560.2 L451.5 1555.7 L457.4 1551.2 L463.2 1546.7 L469.1 1542.2 L475.0 1537.8 L480.9 1533.4 L486.8 1528.9 L492.7 1524.5 L498.6 1520.1 L504.5 1515.7 L510.3 1511.4 L516.2 1507.0 L522.1 1502.6 L528.0 1498.3 L533.9 1494.0 L539.8 1489.7 L545.7 1485.4 L551.6 1481.1 L557.4 1476.8 L563.3 1472.6 L569.2 1468.3 L575.1 1464.1 L581.0 1459.9 L586.9 1455.7 L592.8 1451.5 L598.6 1447.3 L604.5 1443.1 L610.4 1439.0 L616.3 1434.8 L622.2 1430.7 L628.1 1426.6 L634.0 1422.5 L639.9 1418.4 L645.7 1414.3 L651.6 1410.2 L657.5 1406.2 L663.4 1402.1 L669.3 1398.1 L675.2 1394.1 L681.1 1390.1 L687.0 1386.1 L692.8 1382.1 L698.7 1378.1 L704.6 1374.2 L710.5 1370.2 L716.4 1366.3 L722.3 1362.3 L728.2 1358.4 L734.1 1354.5 L739.9 1350.6 L745.8 1346.7 L751.7 1342.9 L757.6 1339.0 L763.5 1335.2 L769.4 1331.3 L775.3 1327.5 L781.2 1323.7 L787.0 1319.9 L792.9 1316.1 L798.8 1312.3 L804.7 1308.6 L810.6 1304.8 L816.5 1301.1 L822.4 1297.3 L828.2 1293.6 L834.1 1289.9 L840.0 1286.2 L845.9 1282.5 L851.8 1278.8 L857.7 1275.2 L863.6 1271.5 L869.5 1267.9 L875.3 1264.2 L881.2 1260.6 L887.1 1257.0 L893.0 1253.4 L898.9 1249.8 L904.8 1246.2 L910.7 1242.6 L916.6 1239.1 L922.4 1235.5 L928.3 1232.0 L934.2 1228.4 L940.1 1224.9 L946.0 1221.4 L951.9 1217.9 L957.8 1214.4 L963.7 1210.9 L969.5 1207.5 L975.4 1204.0 L981.3 1200.6 L987.2 1197.1 L993.1 1193.7 L999.0 1190.3 L1004.9 1186.9 L1010.8 1183.5 L1016.6 1180.1 L1022.5 1176.7 L1028.4 1173.3 L1034.3 1170.0 L1040.2 1166.6 L1046.1 1163.3 L1052.0 1160.0 L1057.9 1156.6 L1063.7 1153.3 L1069.6 1150.0 L1075.5 1146.7 L1081.4 1143.4 L1087.3 1140.2 L1093.2 1136.9 L1099.1 1133.7 L1104.9 1130.4 L1110.8 1127.2 L1116.7 1124.0 L1122.6 1120.7 L1128.5 1117.5 L1134.4 1114.3 L1140.3 1111.1 L1146.2 1108.0 L1152.0 1104.8 L1157.9 1101.6 L1163.8 1098.5 L1169.7 1095.3 L1175.6 1092.2 L1181.5 1089.1 L1187.4 1086.0 L1193.3 1082.9 L1199.1 1079.8 L1205.0 1076.7 L1210.9 1073.6 L1216.8 1070.5 L1222.7 1067.5 L1228.6 1064.4 L1234.5 1061.4 L1240.4 1058.3 L1246.2 1055.3 L1252.1 1052.3 L1258.0 1049.3 L1263.9 1046.3 L1269.8 1043.3 L1275.7 1040.3 L1281.6 1037.3 L1287.5 1034.3 L1293.3 1031.4 L1299.2 1028.4 L1305.1 1025.5 L1311.0 1022.6 L1316.9 1019.6 L1322.8 1016.7 L1328.7 1013.8 L1334.5 1010.9 L1340.4 1008.0 L1346.3 1005.1 L1352.2 1002.3 L1358.1 999.4 L1364.0 996.5 L1369.9 993.7 L1375.8 990.8 L1381.6 988.0 L1387.5 985.2 L1393.4 982.4 L1399.3 979.6 L1405.2 976.8 L1411.1 974.0 L1417.0 971.2 L1422.9 968.4 L1428.7 965.6 L1434.6 962.9 L1440.5 960.1 L1446.4 957.4 L1452.3 954.6 L1458.2 951.9 L1464.1 949.2 L1470.0 946.5 L1475.8 943.7 L1481.7 941.0 L1487.6 938.4 L1493.5 935.7 L1499.4 933.0 L1505.3 930.3 L1511.2 927.7 L1517.1 925.0 L1522.9 922.4 L1528.8 919.7 L1534.7 917.1 L1540.6 914.5 L1546.5 911.8 L1552.4 909.2 L1558.3 906.6 L1564.1 904.0 L1570.0 901.4 L1575.9 898.9 L1581.8 896.3 L1587.7 893.7 L1593.6 891.2 L1599.5 888.6 L1605.4 886.1 L1611.2 883.5 L1617.1 881.0 L1623.0 878.5 L1628.9 875.9 L1634.8 873.4 L1640.7 870.9 L1646.6 868.4 L1652.5 866.0 L1658.3 863.5 L1664.2 861.0 L1670.1 858.5 L1676.0 856.1 L1681.9 853.6 L1687.8 851.2 L1693.7 848.7 L1699.6 846.3 L1705.4 843.9 L1711.3 841.4 L1717.2 839.0 L1723.1 836.6 L1729.0 834.2 L1734.9 831.8 L1740.8 829.4 L1746.7 827.1 L1752.5 824.7 L1758.4 822.3 L1764.3 820.0 L1770.2 817.6 L1776.1 815.3 L1782.0 812.9 L1787.9 810.6 L1793.8 808.3 L1799.6 805.9 L1805.5 803.6 L1811.4 801.3 L1817.3 799.0 L1823.2 796.7 L1829.1 794.4 L1831.3 793.5 M1891.9 770.4 L1897.5 768.3 L1903.4 766.1 L1909.3 763.9 L1915.2 761.7 L1921.1 759.5 L1926.9 757.3 L1932.8 755.1 L1938.7 752.9 L1944.6 750.8 L1950.5 748.6 L1956.4 746.4 L1962.3 744.3 L1964.5 743.5" stroke="#5ec962" stroke-width="4.17"/>
<path d="M110.0 2077.7 L115.9 2071.7 L121.8 2065.7 L127.7 2059.7 L133.6 2053.7 L139.4 2047.8 L145.3 2041.9 L151.2 2035.9 L157.1 2030.0 L163.0 2024.2 L168.9 2018.3 L174.8 2012.5 L180.7 2006.7 L186.5 2000.8 L192.4 1995.1 L198.3 1989.3 L204.2 1983.5 L210.1 1977.8 L216.0 1972.1 L221.9 1966.4 L227.8 1960.7 L233.6 1955.0 L239.5 1949.4 L245.4 1943.8 L251.3 1938.2 L257.2 1932.6 L263.1 1927.0 L269.0 1921.4 L274.9 1915.9 L280.7 1910.4 L286.6 1904.9 L292.5 1899.4 L298.4 1893.9 L304.3 1888.4 L310.2 1883.0 L316.1 1877.6 L322.0 1872.1 L327.8 1866.8 L333.7 1861.4 L339.6 1856.0 L345.5 1850.7 L351.4 1845.4 L357.3 1840.0 L363.2 1834.7 L369.0 1829.5 L374.9 1824.2 L380.8 1819.0 L386.7 1813.7 L392.6 1808.5 L398.5 1803.3 L404.4 1798.1 L410.3 1793.0 L416.1 1787.8 L422.0 1782.7 L427.9 1777.6 L433.8 1772.4 L439.7 1767.4 L445.6 1762.3 L451.5 1757.2 L457.4 1752.2 L463.2 1747.2 L469.1 1742.1 L475.0 1737.1 L480.9 1732.2 L486.8 1727.2 L492.7 1722.2 L498.6 1717.3 L504.5 1712.4 L510.3 1707.5 L516.2 1702.6 L522.1 1697.7 L528.0 1692.8 L533.9 1688.0 L539.8 1683.1 L545.7 1678.3 L551.6 1673.5 L557.4 1668.7 L563.3 1664.0 L569.2 1659.2 L575.1 1654.4 L581.0 1649.7 L586.9 1645.0 L592.8 1640.3 L598.6 1635.6 L604.5 1630.9 L610.4 1626.2 L616.3 1621.6 L622.2 1617.0 L628.1 1612.3 L634.0 1607.7 L639.9 1603.1 L645.7 1598.6 L651.6 1594.0 L657.5 1589.4 L663.4 1584.9 L669.3 1580.4 L675.2 1575.9 L681.1 1571.4 L687.0 1566.9 L692.8 1562.4 L698.7 1557.9 L704.6 1553.5 L710.5 1549.1 L716.4 1544.6 L722.3 1540.2 L728.2 1535.8 L734.1 1531.5 L739.9 1527.1 L745.8 1522.7 L751.7 1518.4 L757.6 1514.1 L763.5 1509.8 L769.4 1505.5 L775.3 1501.2 L781.2 1496.9 L787.0 1492.6 L792.9 1488.4 L798.8 1484.1 L804.7 1479.9 L810.6 1475.7 L816.5 1471.5 L822.4 1467.3 L828.2 1463.1 L834.1 1459.0 L840.0 1454.8 L845.9 1450.7 L851.8 1446.5 L857.7 1442.4 L863.6 1438.3 L869.5 1434.2 L875.3 1430.2 L881.2 1426.1 L887.1 1422.0 L893.0 1418.0 L898.9 1414.0 L904.8 1409.9 L910.7 1405.9 L916.6 1401.9 L922.4 1398.0 L928.3 1394.0 L934.2 1390.0 L940.1 1386.1 L946.0 1382.1 L951.9 1378.2 L957.8 1374.3 L963.7 1370.4 L969.5 1366.5 L975.4 1362.6 L981.3 1358.7 L987.2 1354.9 L993.1 1351.0 L999.0 1347.2 L1004.9 1343.4 L1010.8 1339.6 L1016.6 1335.8 L1022.5 1332.0 L1028.4 1328.2 L1034.3 1324.4 L1040.2 1320.7 L1046.1 1316.9 L1052.0 1313.2 L1057.9 1309.5 L1063.7 1305.8 L1069.6 1302.1 L1075.5 1298.4 L1081.4 1294.7 L1087.3 1291.0 L1093.2 1287.4 L1099.1 1283.7 L1104.9 1280.1 L1110.8 1276.4 L1116.7 1272.8 L1122.6 1269.2 L1128.5 1265.6 L1134.4 1262.0 L1140.3 1258.5 L1146.2 1254.9 L1152.0 1251.3 L1157.9 1247.8 L1163.8 1244.2 L1169.7 1240.7 L1175.6 1237.2 L1181.5 1233.7 L1187.4 1230.2 L1193.3 1226.7 L1199.1 1223.3 L1205.0 1219.8 L1210.9 1216.3 L1216.8 1212.9 L1222.7 1209.5 L1228.6 1206.0 L1234.5 1202.6 L1240.4 1199.2 L1246.2 1195.8 L1252.1 1192.4 L1258.0 1189.1 L1263.9 1185.7 L1269.8 1182.3 L1275.7 1179.0 L1281.6 1175.7 L1287.5 1172.3 L1293.3 1169.0 L1299.2 1165.7 L1305.1 1162.4 L1311.0 1159.1 L1316.9 1155.8 L1322.8 1152.6 L1328.7 1149.3 L1334.5 1146.1 L1340.4 1142.8 L1346.3 1139.6 L1352.2 1136.4 L1358.1 1133.1 L1364.0 1129.9 L1369.9 1126.7 L1375.8 1123.6 L1381.6 1120.4 L1387.5 1117.2 L1393.4 1114.1 L1399.3 1110.9 L1405.2 1107.8 L1411.1 1104.6 L1417.0 1101.5 L1422.9 1098.4 L1428.7 1095.3 L1434.6 1092.2 L1440.5 1089.1 L1446.4 1086.0 L1452.3 1083.0 L1458.2 1079.9 L1464.1 1076.8 L1470.0 1073.8 L1475.8 1070.8 L1481.7 1067.7 L1487.6 1064.7 L1493.5 1061.7 L1499.4 1058.7 L1505.3 1055.7 L1511.2 1052.7 L1517.1 1049.7 L1522.9 1046.8 L1528.8 1043.8 L1534.7 1040.9 L1540.6 1037.9 L1546.5 1035.0 L1552.4 1032.1 L1558.3 1029.1 L1564.1 1026.2 L1570.0 1023.3 L1575.9 1020.4 L1581.8 1017.6 L1587.7 1014.7 L1593.6 1011.8 L1599.5 1008.9 L1605.4 1006.1 L1611.2 1003.3 L1617.1 1000.4 L1623.0 997.6 L1628.9 994.8 L1634.8 992.0 L1640.7 989.1 L1646.6 986.3 L1648.4 985.5 M1706.7 958.2 L1712.1 955.8 L1718.0 953.1 L1723.8 950.4 L1729.7 947.7 L1735.6 945.0 L1741.5 942.3 L1747.4 939.6 L1753.3 937.0 L1759.2 934.3 L1765.1 931.7 L1770.9 929.1 L1776.8 926.4 L1782.7 923.8 L1788.6 921.2 L1794.5 918.6 L1800.4 916.0 L1806.3 913.4 L1812.1 910.8 L1818.0 908.2 L1823.9 905.7 L1829.8 903.1 L1835.7 900.5 L1841.6 898.0 L1847.5 895.4 L1853.4 892.9 L1859.2 890.4 L1865.1 887.9 L1871.0 885.3 L1876.9 882.8 L1882.8 880.3 L1888.7 877.8 L1894.6 875.4 L1900.5 872.9 L1906.3 870.4 L1912.2 867.9 L1918.1 865.5 L1924.0 863.0 L1929.9 860.6 L1935.8 858.1 L1941.7 855.7 L1947.6 853.3 L1953.4 850.9 L1959.3 848.4 L1964.5 846.3" stroke="#addc30" stroke-width="4.17"/>
<path d="M110.0 2314.3 L115.9 2307.6 L121.8 2300.9 L127.7 2294.3 L133.6 2287.7 L139.4 2281.1 L145.3 2274.5 L151.2 2267.9 L157.1 2261.4 L163.0 2254.9 L168.9 2248.4 L174.8 2241.9 L180.7 2235.4 L186.5 2229.0 L192.4 2222.6 L198.3 2216.2 L204.2 2209.8 L210.1 2203.4 L216.0 2197.1 L221.9 2190.8 L227.8 2184.5 L233.6 2178.2 L239.5 2171.9 L245.4 2165.7 L251.3 2159.4 L257.2 2153.2 L263.1 2147.1 L269.0 2140.9 L274.9 2134.7 L280.7 2128.6 L286.6 2122.5 L292.5 2116.4 L298.4 2110.3 L304.3 2104.3 L310.2 2098.2 L316.1 2092.2 L322.0 2086.2 L327.8 2080.2 L333.7 2074.3 L339.6 2068.3 L345.5 2062.4 L351.4 2056.5 L357.3 2050.6 L363.2 2044.7 L369.0 2038.9 L374.9 2033.0 L380.8 2027.2 L386.7 2021.4 L392.6 2015.6 L398.5 2009.9 L404.4 2004.1 L410.3 1998.4 L416.1 1992.7 L422.0 1987.0 L427.9 1981.3 L433.8 1975.6 L439.7 1970.0 L445.6 1964.4 L451.5 1958.8 L457.4 1953.2 L463.2 1947.6 L469.1 1942.0 L475.0 1936.5 L480.9 1931.0 L486.8 1925.5 L492.7 1920.0 L498.6 1914.5 L504.5 1909.0 L510.3 1903.6 L516.2 1898.2 L522.1 1892.7 L528.0 1887.3 L533.9 1882.0 L539.8 1876.6 L545.7 1871.3 L551.6 1865.9 L557.4 1860.6 L563.3 1855.3 L569.2 1850.0 L575.1 1844.8 L581.0 1839.5 L586.9 1834.3 L592.8 1829.1 L598.6 1823.9 L604.5 1818.7 L610.4 1813.5 L616.3 1808.4 L622.2 1803.2 L628.1 1798.1 L634.0 1793.0 L639.9 1787.9 L645.7 1782.8 L651.6 1777.7 L657.5 1772.7 L663.4 1767.7 L669.3 1762.6 L675.2 1757.6 L681.1 1752.7 L687.0 1747.7 L692.8 1742.7 L698.7 1737.8 L704.6 1732.8 L710.5 1727.9 L716.4 1723.0 L722.3 1718.1 L728.2 1713.3 L734.1 1708.4 L739.9 1703.6 L745.8 1698.8 L751.7 1693.9 L757.6 1689.1 L763.5 1684.4 L769.4 1679.6 L775.3 1674.8 L781.2 1670.1 L787.0 1665.4 L792.9 1660.6 L798.8 1655.9 L804.7 1651.3 L810.6 1646.6 L816.5 1641.9 L822.4 1637.3 L828.2 1632.7 L834.1 1628.0 L840.0 1623.4 L845.9 1618.8 L851.8 1614.3 L857.7 1609.7 L863.6 1605.2 L869.5 1600.6 L875.3 1596.1 L881.2 1591.6 L887.1 1587.1 L893.0 1582.6 L898.9 1578.1 L904.8 1573.7 L910.7 1569.2 L916.6 1564.8 L922.4 1560.4 L928.3 1556.0 L934.2 1551.6 L940.1 1547.2 L946.0 1542.9 L951.9 1538.5 L957.8 1534.2 L963.7 1529.8 L969.5 1525.5 L975.4 1521.2 L981.3 1516.9 L987.2 1512.7 L993.1 1508.4 L999.0 1504.1 L1004.9 1499.9 L1010.8 1495.7 L1016.6 1491.5 L1022.5 1487.3 L1028.4 1483.1 L1034.3 1478.9 L1040.2 1474.7 L1046.1 1470.6 L1052.0 1466.4 L1057.9 1462.3 L1063.7 1458.2 L1069.6 1454.1 L1075.5 1450.0 L1081.4 1445.9 L1087.3 1441.8 L1093.2 1437.8 L1099.1 1433.7 L1104.9 1429.7 L1110.8 1425.7 L1116.7 1421.7 L1122.6 1417.7 L1128.5 1413.7 L1134.4 1409.7 L1140.3 1405.8 L1146.2 1401.8 L1152.0 1397.9 L1157.9 1393.9 L1163.8 1390.0 L1169.7 1386.1 L1175.6 1382.2 L1181.5 1378.3 L1187.4 1374.5 L1193.3 1370.6 L1199.1 1366.8 L1205.0 1362.9 L1210.9 1359.1 L1216.8 1355.3 L1222.7 1351.5 L1228.6 1347.7 L1234.5 1343.9 L1240.4 1340.1 L1246.2 1336.4 L1252.1 1332.6 L1258.0 1328.9 L1263.9 1325.1 L1269.8 1321.4 L1275.7 1317.7 L1281.6 1314.0 L1287.5 1310.3 L1293.3 1306.6 L1299.2 1303.0 L1305.1 1299.3 L1311.0 1295.7 L1316.9 1292.0 L1322.8 1288.4 L1328.7 1284.8 L1334.5 1281.2 L1340.4 1277.6 L1346.3 1274.0 L1352.2 1270.5 L1358.1 1266.9 L1364.0 1263.3 L1369.9 1259.8 L1375.8 1256.3 L1381.6 1252.8 L1387.5 1249.2 L1393.4 1245.7 L1399.3 1242.3 L1405.2 1238.8 L1411.1 1235.3 L1417.0 1231.8 L1422.9 1228.4 L1428.7 1224.9 L1434.6 1221.5 L1440.5 1218.1 L1446.4 1214.7 L1452.3 1211.3 L1458.2 1207.9 L1464.1 1204.5 L1470.0 1201.1 L1475.8 1197.8 L1480.5 1195.1 M1536.1 1163.9 L1541.3 1161.0 L1547.2 1157.7 L1553.1 1154.5 L1559.0 1151.3 L1564.9 1148.0 L1570.8 1144.8 L1576.7 1141.6 L1582.5 1138.4 L1588.4 1135.2 L1594.3 1132.1 L1600.2 1128.9 L1606.1 1125.7 L1612.0 1122.6 L1617.9 1119.4 L1623.8 1116.3 L1629.6 1113.2 L1635.5 1110.1 L1641.4 1107.0 L1647.3 1103.9 L1653.2 1100.8 L1659.1 1097.7 L1665.0 1094.6 L1670.9 1091.6 L1676.7 1088.5 L1682.6 1085.5 L1688.5 1082.4 L1694.4 1079.4 L1700.3 1076.4 L1706.2 1073.4 L1712.1 1070.4 L1718.0 1067.4 L1723.8 1064.4 L1729.7 1061.4 L1735.6 1058.4 L1741.5 1055.5 L1747.4 1052.5 L1753.3 1049.6 L1759.2 1046.6 L1765.1 1043.7 L1770.9 1040.8 L1776.8 1037.9 L1782.7 1035.0 L1788.6 1032.1 L1794.5 1029.2 L1800.4 1026.3 L1806.3 1023.4 L1812.1 1020.6 L1818.0 1017.7 L1823.9 1014.9 L1829.8 1012.0 L1835.7 1009.2 L1841.6 1006.4 L1847.5 1003.6 L1853.4 1000.8 L1859.2 998.0 L1865.1 995.2 L1871.0 992.4 L1876.9 989.6 L1882.8 986.8 L1888.7 984.1 L1894.6 981.3 L1900.5 978.6 L1906.3 975.8 L1912.2 973.1 L1918.1 970.4 L1924.0 967.7 L1929.9 965.0 L1935.8 962.3 L1941.7 959.6 L1947.6 956.9 L1953.4 954.2 L1959.3 951.5 L1964.5 949.2" stroke="#fde725" stroke-width="4.17"/>
</g>
<g clip-path="url(#ax)" font-size="27.78" text-anchor="middle">
<g transform="translate(1618.3 165.3) rotate(-7.70)"><text x="0" y="7.67" fill="#440154">0.4</text></g>
<g transform="translate(1839.1 249.0) rotate(-9.99)"><text x="0" y="7.67" fill="#472d7b">0.6</text></g>
<g transform="translate(1843.8 356.7) rotate(-12.89)"><text x="0" y="7.67" fill="#3b528b">0.8</text></g>
<g transform="translate(1626.0 521.9) rotate(-17.33)"><text x="0" y="7.67" fill="#2c728e">1.0</text></g>
<g transform="translate(1853.8 570.9) rotate(-18.45)"><text x="0" y="7.67" fill="#21918c">1.2</text></g>
<g transform="translate(1854.0 678.8) rotate(-21.13)"><text x="0" y="7.67" fill="#28ae80">1.4</text></g>
<g transform="translate(1861.3 783.9) rotate(-23.64)"><text x="0" y="7.67" fill="#5ec962">1.6</text></g>
<g transform="translate(1677.2 974.0) rotate(-28.15)"><text x="0" y="7.67" fill="#addc30">1.8</text></g>
<g transform="translate(1508.0 1181.3) rotate(-32.74)"><text x="0" y="7.67" fill="#fde725">2.0</text></g>
</g>
<rect x="116" y="150" width="3" height="1120" fill="#1a1a1a"/>
<rect x="116" y="1267" width="1843" height="3" fill="#1a1a1a"/>
<g fill="#000">
<rect x="116" y="1258" width="2" height="10"/>
<rect x="264" y="1258" width="2" height="10"/>
<rect x="411" y="1258" width="2" height="10"/>
<rect x="558" y="1258" width="2" height="10"/>
<rect x="705" y="1258" width="2" height="10"/>
<rect x="852" y="1258" width="2" height="10"/>
<rect x="999" y="1258" width="2" height="10"/>
<rect x="1147" y="1258" width="2" height="10"/>
<rect x="1294" y="1258" width="2" height="10"/>
<rect x="1441" y="1258" width="2" height="10"/>
<rect x="1588" y="1258" width="2" height="10"/>
<rect x="1735" y="1258" width="2" height="10"/>
<rect x="1883" y="1258" width="2" height="10"/>
<rect x="117" y="1267" width="10" height="2"/>
<rect x="117" y="1143" width="10" height="2"/>
<rect x="117" y="1019" width="10" height="2"/>
<rect x="117" y="895" width="10" height="2"/>
<rect x="117" y="771" width="10" height="2"/>
<rect x="117" y="646" width="10" height="2"/>
<rect x="117" y="522" width="10" height="2"/>
<rect x="117" y="398" width="10" height="2"/>
<rect x="117" y="274" width="10" height="2"/>
<rect x="117" y="150" width="10" height="2"/>
</g>
<g fill="#1a1a1a" font-size="33.33">
<g text-anchor="middle">
<text x="117.37" y="1304.0">65</text>
<text x="264.55" y="1304.0">67</text>
<text x="411.73" y="1304.0">69</text>
<text x="558.91" y="1304.0">71</text>
<text x="706.09" y="1304.0">73</text>
<text x="853.27" y="1304.0">75</text>
<text x="1000.45" y="1304.0">77</text>
<text x="1147.63" y="1304.0">79</text>
<text x="1294.81" y="1304.0">81</text>
<text x="1441.99" y="1304.0">83</text>
<text x="1589.17" y="1304.0">85</text>
<text x="1736.35" y="1304.0">87</text>
<text x="1883.53" y="1304.0">89</text>
<text x="338.14" y="134.4">20</text>
<text x="603.06" y="134.4">22</text>
<text x="867.99" y="134.4">24</text>
<text x="1132.91" y="134.4">26</text>
<text x="1397.84" y="134.4">28</text>
<text x="1662.76" y="134.4">30</text>
<text x="1927.68" y="134.4">32</text>
</g><g text-anchor="end">
<text x="106.5" y="1282.40">35</text>
<text x="106.5" y="1158.20">40</text>
<text x="106.5" y="1034.00">45</text>
<text x="106.5" y="909.80">50</text>
<text x="106.5" y="785.60">55</text>
<text x="106.5" y="661.40">60</text>
<text x="106.5" y="537.20">65</text>
<text x="106.5" y="413.00">70</text>
<text x="106.5" y="288.80">75</text>
<text x="106.5" y="164.60">80</text>
</g></g>
<g fill="#1a1a1a" font-size="36.11" text-anchor="middle">
<text id="xl" x="1036.9" y="1350.1">Air Temperature (°F)</text>
<text id="tl" x="1036.9" y="98.0">Air Temperature (°C)</text>
<text id="yl" transform="translate(46.2 710.5) rotate(-90)">Relative Humidity (%)</text>
</g>
<text id="title" x="239.0" y="54.4" fill="#333333" font-size="44.44" textLength="1597.5" lengthAdjust="spacing">VPD (kPa) — Leaf-based (Leaf Temp Offset = −2°C) (°F bottom / °C top)</text>
</svg>
</body></html>
